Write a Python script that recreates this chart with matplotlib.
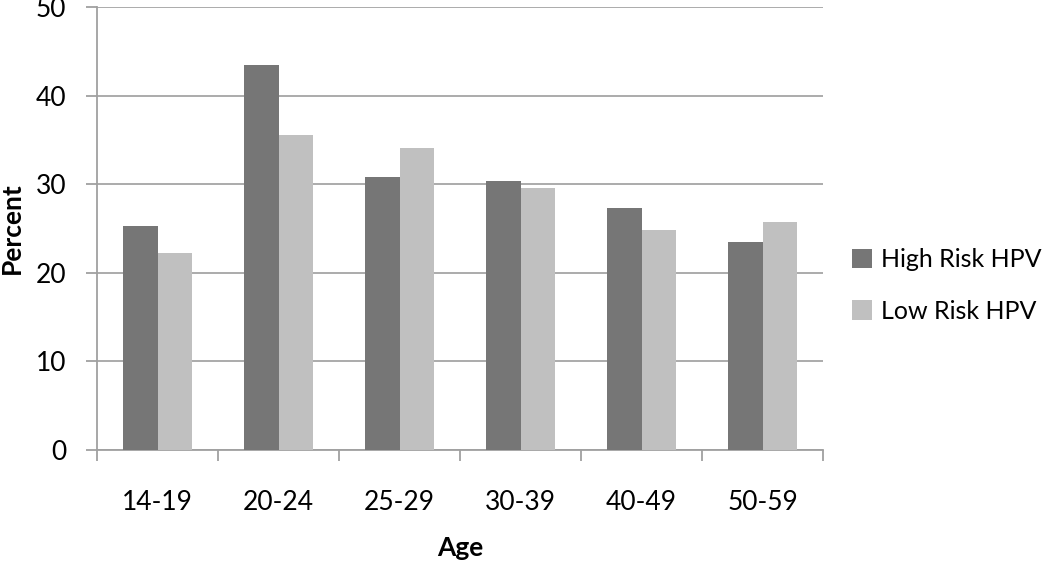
import matplotlib
matplotlib.use("Agg")
import matplotlib.pyplot as plt
import numpy as np

categories = ["14-19", "20-24", "25-29", "30-39", "40-49", "50-59"]
high_risk = [25.3, 43.4, 30.8, 30.4, 27.3, 23.5]
low_risk = [22.2, 35.5, 34.1, 29.6, 24.8, 25.7]
series_names = ["High Risk HPV", "Low Risk HPV"]
yticks = [0, 10, 20, 30, 40, 50]

plt.rcParams['font.family'] = ['Lato', 'DejaVu Sans']

fig = plt.figure(figsize=(10.5, 5.65), dpi=100)
ax = fig.add_axes([0.0924, 0.2035, 0.6916, 0.7841])

x = np.arange(len(categories))
w = 0.285
ax.bar(x - w/2, high_risk, w, color="#767676", label=series_names[0], zorder=3)
ax.bar(x + w/2, low_risk, w, color="#c0c0c0", label=series_names[1], zorder=3)

ax.set_xlim(-0.5, len(categories) - 0.5)
ax.set_ylim(0, 50)
ax.set_yticks(yticks)
ax.yaxis.grid(True, color="#a5a5a5", linewidth=1.3, zorder=0)
ax.set_axisbelow(True)

ax.set_xticks(x)
ax.set_xticklabels(categories, fontsize=19)
ax.set_xticks(np.arange(-0.5, len(categories)), minor=True)
ax.tick_params(axis='x', which='major', length=0, pad=29)
ax.tick_params(axis='x', which='minor', length=8, color="#a0a0a0", width=1.3, direction='out')
ax.tick_params(axis='y', length=8, color="#a0a0a0", width=1.3, direction='out', labelsize=19, pad=14)

for s in ["top", "right"]:
    ax.spines[s].set_visible(False)
for s in ["left", "bottom"]:
    ax.spines[s].set_color("#a0a0a0")
    ax.spines[s].set_linewidth(1.3)

ax.set_ylabel("Percent", fontsize=19, fontweight="bold", va="center")
ax.yaxis.set_label_coords(-0.117, 0.5)
ax.set_xlabel("Age", fontsize=19, fontweight="bold", va="center")
ax.xaxis.set_label_coords(0.5, -0.221)

leg = fig.legend(loc="center left", bbox_to_anchor=(0.79, 0.495), frameon=False,
                 fontsize=18, handlelength=0.8, handleheight=0.8, labelspacing=1.15,
                 handletextpad=0.35)

fig.savefig("out.png", dpi=100)
